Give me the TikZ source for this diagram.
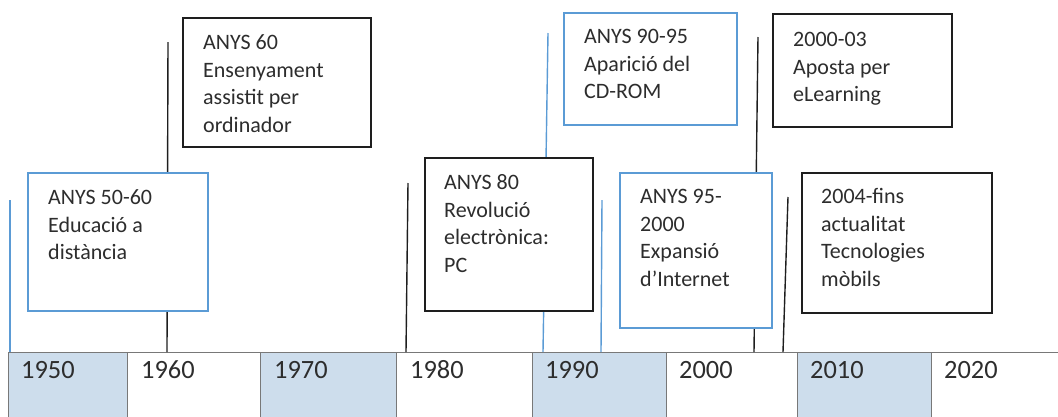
\documentclass[tikz,border=0pt]{standalone}
\usepackage{fontspec}
\setmainfont{Carlito}
\definecolor{cellblue}{RGB}{205,221,236}
\definecolor{lineblue}{RGB}{91,155,213}
\definecolor{ink}{RGB}{30,30,30}
\definecolor{textink}{RGB}{45,45,45}
\definecolor{cellgray}{RGB}{120,120,120}
\begin{document}
\begin{tikzpicture}[x=1pt,y=-1pt,
  boxblack/.style={draw=ink, line width=1.7pt, fill=white, anchor=north west, inner sep=0pt, outer sep=0pt},
  boxblue/.style={draw=lineblue, line width=1.7pt, fill=white, anchor=north west, inner sep=0pt, outer sep=0pt},
  txt/.style={anchor=north west, inner sep=0pt, align=left, font=\fontsize{22}{27.6}\selectfont, text=textink},
  yeartxt/.style={anchor=base west, inner sep=0pt, font=\fontsize{26.4}{30}\selectfont, text=textink},
  cellplain/.style={draw=cellgray, line width=0.8pt, anchor=north west, inner sep=0pt, outer sep=0pt, minimum height=70},
  cellshade/.style={cellplain, fill=cellblue},
  pinblack/.style={draw=ink, line width=1.4pt},
  pinblue/.style={draw=lineblue, line width=1.4pt}
]
\useasboundingbox (0,0) rectangle (1058,416);

% timeline cells
\node[cellshade, minimum width=119] (c1950) at (8,352) {};
\node[cellplain, minimum width=133] (c1960) at (127,352) {};
\node[cellshade, minimum width=136] (c1970) at (260,352) {};
\node[cellplain, minimum width=136] (c1980) at (396,352) {};
\node[cellshade, minimum width=134] (c1990) at (532,352) {};
\node[cellplain, minimum width=131] (c2000) at (666,352) {};
\node[cellshade, minimum width=134] (c2010) at (797,352) {};
\node[cellplain, minimum width=130] (c2020) at (931,352) {};

\node[yeartxt] (y1950) at (21,378) {1950};
\node[yeartxt] (y1960) at (141,378) {1960};
\node[yeartxt] (y1970) at (274,378) {1970};
\node[yeartxt] (y1980) at (410,378) {1980};
\node[yeartxt] (y1990) at (545,378) {1990};
\node[yeartxt] (y2000) at (679,378) {2000};
\node[yeartxt] (y2010) at (810,378) {2010};
\node[yeartxt] (y2020) at (944,378) {2020};

% pin end points
\coordinate (p1t) at (10,200);   \coordinate (p1b) at (10,352);
\coordinate (p2t) at (168,42);   \coordinate (p2b) at (167,352);
\coordinate (p3t) at (408,183);  \coordinate (p3b) at (406,352);
\coordinate (p4t) at (548,33);   \coordinate (p4b) at (543,352);
\coordinate (p5t) at (602,200);  \coordinate (p5b) at (601,352);
\coordinate (p6t) at (758,37);   \coordinate (p6b) at (754,352);
\coordinate (p7t) at (788,197);  \coordinate (p7b) at (783,352);

\draw[pinblue] (p1t) -- (p1b);
\draw[pinblack] (p2t) -- (p2b);
\draw[pinblack] (p3t) -- (p3b);
\draw[pinblue] (p4t) -- (p4b);
\draw[pinblue] (p5t) -- (p5b);
\draw[pinblack] (p6t) -- (p6b);
\draw[pinblack] (p7t) -- (p7b);

% boxes
\node[boxblue, minimum width=180, minimum height=138] (A) at (28,173) {};
\node[boxblack, minimum width=188, minimum height=129] (B) at (183,18) {};
\node[boxblack, minimum width=168, minimum height=153] (C) at (425,158) {};
\node[boxblue, minimum width=173, minimum height=112] (D) at (564,13) {};
\node[boxblue, minimum width=152, minimum height=155] (E) at (620,173) {};
\node[boxblack, minimum width=179, minimum height=113] (F) at (773,14) {};
\node[boxblack, minimum width=190, minimum height=140] (G) at (802,173) {};

\node[txt] (At) at ([shift={(20,12)}]A.north west) {\strut ANYS 50-60\\Educació a\\distància};
\node[txt] (Bt) at ([shift={(20,12)}]B.north west) {\strut ANYS 60\\Ensenyament\\assistit per\\ordinador};
\node[txt] (Ct) at ([shift={(19,12)}]C.north west) {\strut ANYS 80\\Revolució\\electrònica:\\PC};
\node[txt] (Dt) at ([shift={(20,11)}]D.north west) {\strut ANYS 90-95\\Aparició del\\CD-ROM};
\node[txt] (Et) at ([shift={(20,11)}]E.north west) {\strut ANYS 95-\\2000\\Expansió\\d’Internet};
\node[txt] (Ft) at ([shift={(20,13)}]F.north west) {\strut 2000-03\\Aposta per\\eLearning};
\node[txt] (Gt) at ([shift={(19,11)}]G.north west) {\strut 2004-fins\\actualitat\\Tecnologies\\mòbils};
\end{tikzpicture}
\end{document}
